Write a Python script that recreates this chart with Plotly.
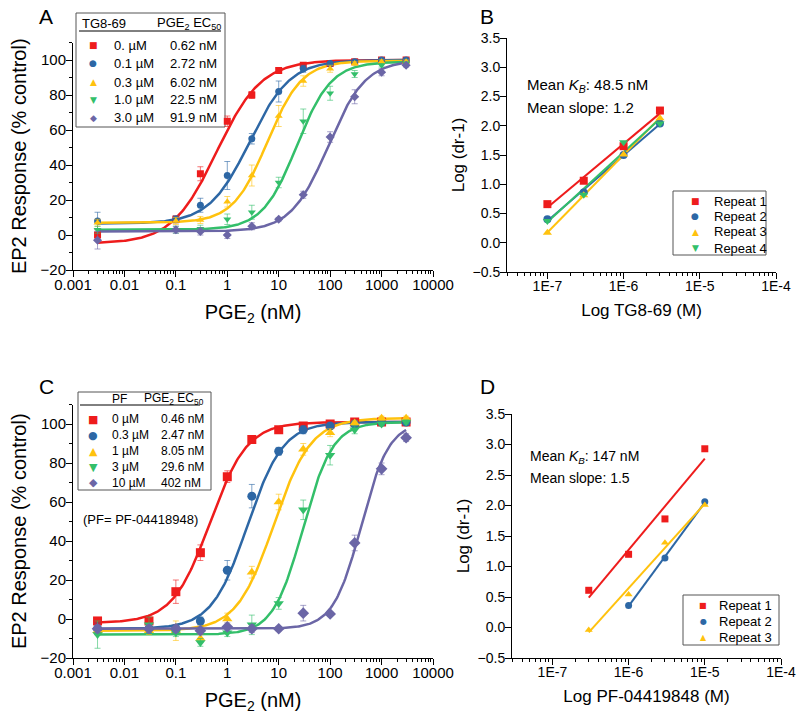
import numpy as np
import plotly.graph_objects as go

W, H = 800, 720
FONT = "Liberation Sans, Arial, sans-serif"
GLYPH_FONT = "DejaVu Sans"

# ---------------- data ----------------
colors = ["#EE1C1C", "#2D67A5", "#FFC20E", "#33BF6A", "#6B66A6"]
err_colors = ["rgba(238,28,28,0.6)", "rgba(45,103,165,0.6)", "rgba(255,194,14,0.6)",
              "rgba(51,191,106,0.6)", "rgba(107,102,166,0.6)"]
symbols = ["square", "circle", "triangle-up", "triangle-down", "diamond"]
glyphs = ["■", "●", "▲", "▼", "◆"]

# Panel A (TG8-69)
a_conc = [0.003, 0.1, 0.3, 1, 3, 10, 30, 100, 300, 1000, 3000]
a_labels = ["0. µM", "0.1 µM", "0.3 µM", "1.0 µM", "3.0 µM"]
a_ec50_txt = ["0.62 nM", "2.72 nM", "6.02 nM", "22.5 nM", "91.9 nM"]
a_ec50 = [0.62, 2.72, 6.02, 22.5, 91.9]
a_bottom = [-5, 6.5, 7, 3, 2]
a_top = [100, 100, 99.5, 99, 100]
a_hill = [1.0, 1.1, 1.3, 1.3, 1.2]
a_resp = [
    [0, 9, 35, 65, 80, 94, 97, 98, 99, 100, 100],
    [8, 9, 17, 34, 55, 82, 95, 98, 99, 100, 100],
    [7, 8, 8.6, 19, 34, 68, 88, 95, 98, 99, 99],
    [3, 3, 3.6, 9, 13, 30, 65, 81, 92, 97, 98],
    [-3, 3, 2, 0, 5, 9, 23, 56, 79, 93, 97],
]
a_err = [
    [3, 2, 4, 3, 2, 1.5, 1, 1, 1, 1, 1],
    [5, 2, 4, 8, 3, 6, 2, 1, 1, 1, 1],
    [2, 2, 2, 3, 6, 6, 3, 2, 1, 1, 1],
    [2, 2, 2, 3, 4, 3, 7, 4, 2, 1, 1],
    [5, 2, 2, 2, 2, 1, 2, 3, 4, 2, 1],
]

# Panel C (PF-04418948)
c_conc = [0.003, 0.03, 0.1, 0.3, 1, 3, 10, 30, 100, 300, 1000, 3000]
c_labels = ["0 µM", "0.3 µM", "1 µM", "3 µM", "10 µM"]
c_ec50_txt = ["0.46 nM", "2.47 nM", "8.05 nM", "29.6 nM", "402 nM"]
c_ec50 = [0.46, 2.47, 8.05, 29.6, 402]
c_bottom = [-2, -5, -6, -8, -5]
c_top = [101, 101, 103, 101, 101]
c_hill = [1.2, 1.25, 1.2, 1.5, 1.6]
c_resp = [
    [-1, -1, 14, 34, 73, 92, 97, 99, 100, 101, 101, 101],
    [-5, -5, -5, -1, 25, 63, 86, 97, 99, 100, 101, 101],
    [-6, -6, -6, -10, 0, 24, 60, 87, 95.5, 100.5, 103, 103],
    [-8, -3, -7, -12, -7, -3, 8, 56, 84, 97, 100, 101],
    [-5, -5, -5, -6, -4, -5, -5, 3, 2.6, 39, 77, 93],
]
c_err = [
    [1, 1, 6, 4, 3, 2, 1, 1, 1, 1, 1, 1],
    [3, 2, 2, 2, 5, 6, 2, 2, 1, 1, 1, 1],
    [2, 2, 5, 2, 3, 3, 4, 3, 2, 1, 1, 1],
    [7, 4, 2, 2, 2, 5, 3, 5, 5, 2, 1, 1],
    [2, 2, 2, 2, 2, 2, 1, 4, 1, 4, 3, 2],
]

# Panel B (Schild, TG8-69)
b_names = ["Repeat 1", "Repeat 2", "Repeat 3", "Repeat 4"]
b_conc = [[1e-7, 3e-7, 1e-6, 3e-6]] * 4
b_vals = [
    [0.66, 1.06, 1.65, 2.26],
    [0.40, 0.86, 1.50, 2.04],
    [0.17, 0.81, 1.51, 2.13],
    [0.37, 0.82, 1.72, 2.04],
]

# Panel D (Schild, PF-04418948)
d_names = ["Repeat 1", "Repeat 2", "Repeat 3"]
d_conc = [[3e-7, 1e-6, 3e-6, 1e-5], [1e-6, 3e-6, 1e-5], [3e-7, 1e-6, 3e-6, 1e-5]]
d_vals = [
    [0.61, 1.20, 1.78, 2.93],
    [0.36, 1.14, 2.06],
    [-0.04, 0.54, 1.39, 2.01],
]

# ---------------- helpers ----------------
def fx(x):
    return x / W


def fy(y):
    return 1 - y / H


def sigmoid(x, bottom, top, ec50, hill):
    return bottom + (top - bottom) / (1 + (ec50 / x) ** hill)


fig = go.Figure()

# Dose-response panels
for panel, (conc, resp, err, ec50, bot, top, hill, msize) in {
    "": (a_conc, a_resp, a_err, a_ec50, a_bottom, a_top, a_hill, 7),
    "3": (c_conc, c_resp, c_err, c_ec50, c_bottom, c_top, c_hill, 9),
}.items():
    xr = "x" + panel
    yr = "y" + panel
    xs = np.logspace(np.log10(conc[0]), np.log10(conc[-1]), 300)
    for i in range(5):
        fig.add_trace(go.Scatter(
            x=xs, y=sigmoid(xs, bot[i], top[i], ec50[i], hill[i]), mode="lines",
            line=dict(color=colors[i], width=2.5), xaxis=xr, yaxis=yr, hoverinfo="skip"))
    for i in range(5):
        fig.add_trace(go.Scatter(
            x=conc, y=resp[i], mode="markers",
            marker=dict(symbol=symbols[i], size=msize, color=colors[i]),
            error_y=dict(type="data", array=err[i], color=err_colors[i], thickness=1, width=3),
            xaxis=xr, yaxis=yr))

# Schild panels
for panel, (concs, vals, msize) in {
    "2": (b_conc, b_vals, 8),
    "4": (d_conc, d_vals, 7),
}.items():
    xr = "x" + panel
    yr = "y" + panel
    for i in range(len(vals)):
        lx = np.log10(concs[i])
        k, b0 = np.polyfit(lx, vals[i], 1)
        ends = np.array([lx.min(), lx.max()])
        fig.add_trace(go.Scatter(
            x=10 ** ends, y=k * ends + b0, mode="lines",
            line=dict(color=colors[i], width=2), xaxis=xr, yaxis=yr, hoverinfo="skip"))
    for i in range(len(vals)):
        fig.add_trace(go.Scatter(
            x=concs[i], y=vals[i], mode="markers",
            marker=dict(symbol=symbols[i], size=msize, color=colors[i]),
            xaxis=xr, yaxis=yr))

# ---------------- axes ----------------
def base_axis(size, standoff):
    return dict(showline=True, linecolor="black", linewidth=1, ticks="outside", ticklen=6,
                tickwidth=1, tickcolor="black", showgrid=False, zeroline=False, automargin=False,
                ticklabelstandoff=standoff,
                tickfont=dict(family=FONT, size=size, color="black"))


def dom_x(a, b):
    return [fx(a), fx(b)]


def dom_y(top, bottom):
    return [fy(bottom), fy(top)]


a_ticks = [0.001, 0.01, 0.1, 1, 10, 100, 1000, 10000]
a_ticktext = ["0.001", "0.01", "0.1", "1", "10", "100", "1000", "10000"]
s_ticks = [1e-7, 1e-6, 1e-5, 1e-4]
s_ticktext = ["1E-7", "1E-6", "1E-5", "1E-4"]

log_minor = dict(ticks="outside", ticklen=3, tickcolor="black", dtick="D1", showgrid=False)

layout = dict(width=W, height=H, margin=dict(l=0, r=0, t=0, b=0, autoexpand=False),
              paper_bgcolor="white", plot_bgcolor="white", showlegend=False)

for key, dx, dy, anchor in [("", (73, 433), (42.5, 270), "y"), ("3", (73, 433), (404.5, 658), "y3")]:
    xa = base_axis(15, -5)
    xa.update(type="log", range=[-3, 4], domain=dom_x(*dx), anchor=anchor,
              tickvals=a_ticks, ticktext=a_ticktext, minor=log_minor,
              title=dict(text="PGE<sub>2</sub> (nM)", font=dict(family=FONT, size=20, color="black"),
                         standoff=12))
    ya = base_axis(15, -3)
    ya.update(range=[-20, 110], dtick=20, tick0=0, domain=dom_y(*dy), anchor="x" + key,
              minor=dict(ticks="outside", ticklen=3, tickcolor="black", dtick=10, showgrid=False),
              title=dict(text="EP2 Response (% control)", font=dict(family=FONT, size=20, color="black"),
                         standoff=8))
    layout["xaxis" + key] = xa
    layout["yaxis" + key] = ya

for key, dx, dy, xtitle in [("2", (507, 776), (38, 272), "Log TG8-69 (M)"),
                            ("4", (512, 781), (414, 658), "Log PF-04419848 (M)")]:
    xa = base_axis(14, -5)
    xa.update(type="log", range=[-7.53, -4], domain=dom_x(*dx), anchor="y" + key,
              tickvals=s_ticks, ticktext=s_ticktext, minor=log_minor,
              title=dict(text=xtitle, font=dict(family=FONT, size=17, color="black"), standoff=11))
    ya = base_axis(14, -3)
    ya.update(range=[-0.5, 3.5], dtick=0.5, tick0=0, tickformat=".1f", domain=dom_y(*dy),
              anchor="x" + key,
              title=dict(text="Log (dr-1)", font=dict(family=FONT, size=17, color="black"), standoff=3))
    layout["xaxis" + key] = xa
    layout["yaxis" + key] = ya

fig.update_layout(**layout)

# ---------------- legends / annotations ----------------
ann = []
shapes = []


def text(x, y, s, size, xanchor="left", family=FONT, color="black"):
    ann.append(dict(x=fx(x), y=fy(y), xref="paper", yref="paper", text=s, showarrow=False,
                    xanchor=xanchor, yanchor="middle", font=dict(family=family, size=size, color=color)))


def box(x0, y0, x1, y1):
    shapes.append(dict(type="rect", xref="paper", yref="paper", x0=fx(x0), x1=fx(x1),
                       y0=fy(y1), y1=fy(y0), line=dict(color="#555555", width=1),
                       fillcolor="white", layer="below"))


def hline(x0, x1, y):
    shapes.append(dict(type="line", xref="paper", yref="paper", x0=fx(x0), x1=fx(x1),
                       y0=fy(y), y1=fy(y), line=dict(color="black", width=1)))


# panel letters
text(46, 16, "A", 21, "center")
text(487, 16, "B", 21, "center")
text(46, 386, "C", 21, "center")
text(487, 386, "D", 21, "center")

# legend A
box(76, 13, 225, 127)
text(80, 23, "TG8-69", 13)
text(155, 23, "PGE<sub>2</sub> EC<sub>50</sub>", 13)
hline(79, 221, 31)
for i, yy in enumerate([45, 63, 82, 100, 118]):
    text(93, yy, glyphs[i], 9, "center", GLYPH_FONT, colors[i])
    text(112, yy, a_labels[i], 13)
    text(168, yy, a_ec50_txt[i], 13)

# legend C
box(78, 392, 211, 490)
text(110, 399, "PF", 12)
text(142, 399, "PGE<sub>2</sub> EC<sub>50</sub>", 12)
hline(80, 200, 405)
for i, yy in enumerate([419, 435, 451, 467, 483]):
    text(93, yy, glyphs[i], 11, "center", GLYPH_FONT, colors[i])
    text(110, yy, c_labels[i], 12)
    text(159, yy, c_ec50_txt[i], 12)
text(81, 519, "(PF= PF-04418948)", 13)

# legend B
box(673, 191, 766, 255)
for i, yy in enumerate([201, 216, 232, 248]):
    text(695, yy, glyphs[i], 9, "center", GLYPH_FONT, colors[i])
    text(712, yy, b_names[i], 13)
text(525, 85, "Mean <i>K<sub>B</sub></i>: 48.5 nM", 15)
text(525, 107, "Mean slope: 1.2", 15)

# legend D
box(683, 595, 779, 645)
for i, yy in enumerate([605, 621, 637]):
    text(703, yy, glyphs[i], 8, "center", GLYPH_FONT, colors[i])
    text(717, yy, d_names[i], 13)
text(528, 457, "Mean <i>K<sub>B</sub></i>: 147 nM", 14)
text(528, 478, "Mean slope: 1.5", 14)

fig.update_layout(annotations=ann, shapes=shapes)
fig.write_html("out.html", config={"displayModeBar": False},
               post_script="document.body.style.margin='0';")
